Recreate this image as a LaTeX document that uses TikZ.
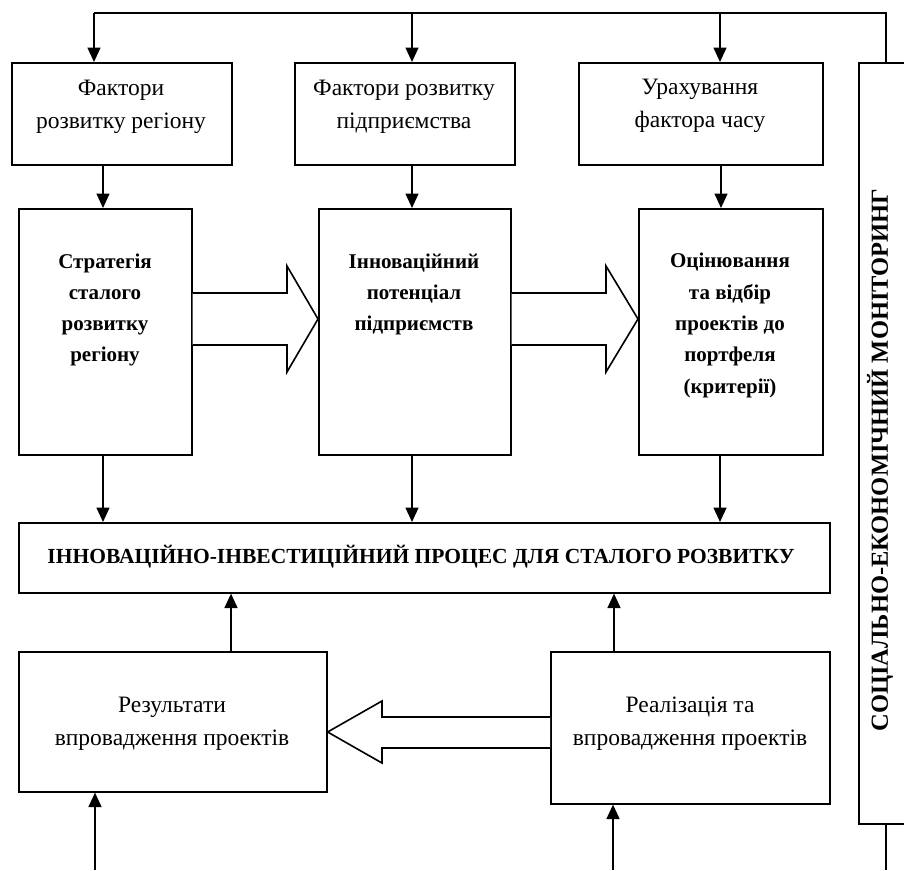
\documentclass[tikz,border=0pt]{standalone}
\usepackage{fontspec}
\setmainfont{Liberation Serif}
\usetikzlibrary{arrows.meta}
\begin{document}
\begin{tikzpicture}[x=1pt,y=-1pt,
  box/.style={draw,line width=1.6pt,inner sep=0pt,anchor=north west},
  txt/.style={align=center,inner sep=0pt,font=\fontsize{23.5}{33}\selectfont},
  btxt/.style={align=center,inner sep=0pt,font=\fontsize{21}{31.3}\selectfont\bfseries},
  arr/.style={line width=1.6pt,-{Triangle[width=13pt,length=14.5pt]}},
  ln/.style={line width=1.6pt},
  barrow/.style={line width=1.6pt,fill=white,line join=miter}]
\useasboundingbox (0,0) rectangle (904,870);
\clip (0,0) rectangle (904,870);
% factor boxes
\node[box,minimum width=220pt,minimum height=102pt] (F1) at (11,62) {};
\node[box,minimum width=220pt,minimum height=102pt] (F2) at (294,62) {};
\node[box,minimum width=244pt,minimum height=102pt] (F3) at (578,62) {};
\node[txt] (F1t) at (121,106.5) {Фактори\\розвитку регіону};
\node[txt] (F2t) at (404,106.5) {Фактори розвитку\\підприємства};
\node[txt] (F3t) at (700,106) {Урахування\\фактора часу};
% strategy boxes
\node[box,minimum width=173pt,minimum height=246pt] (S1) at (18,208) {};
\node[box,minimum width=192pt,minimum height=246pt] (S2) at (318,208) {};
\node[box,minimum width=184pt,minimum height=246pt] (S3) at (638,208) {};
\node[btxt] (S1t) at (105,310) {Стратегія\\сталого\\розвитку\\регіону};
\node[btxt] (S2t) at (414,294.5) {Інноваційний\\потенціал\\підприємств};
\node[btxt] (S3t) at (730,325.5) {Оцінювання\\та відбір\\проектів до\\портфеля\\(критерії)};
% main box
\node[box,minimum width=811pt,minimum height=70pt] (P) at (18,522) {};
\node[btxt,font=\fontsize{21.5}{31.3}\selectfont\bfseries] (Pt) at (421,557) {ІННОВАЦІЙНО-ІНВЕСТИЦІЙНИЙ ПРОЦЕС ДЛЯ СТАЛОГО РОЗВИТКУ};
% bottom boxes
\node[box,minimum width=308pt,minimum height=140pt] (R) at (18,651) {};
\node[box,minimum width=279pt,minimum height=152pt] (Re) at (550,651) {};
\node[txt] (Rt) at (172,723.5) {Результати\\впровадження проектів};
\node[txt] (Ret) at (690,723.5) {Реалізація та\\впровадження проектів};
% monitoring box
\node[box,minimum width=60pt,minimum height=761pt] (M) at (858,62) {};
\node[btxt,font=\fontsize{24.5}{30}\selectfont\bfseries,rotate=90] (Mt) at (880,460) {СОЦІАЛЬНО-ЕКОНОМІЧНИЙ МОНІТОРИНГ};
% top feedback line
\coordinate (t1) at (94,13);
\coordinate (t2) at (412,13);
\coordinate (t3) at (720,13);
\coordinate (t4) at (886,13);
\draw[ln] (t1) -- (t4) -- (M.north -| t4);
\draw[arr] (t1) -- (F1.north -| t1);
\draw[arr] (t2) -- (F2.north -| t2);
\draw[arr] (t3) -- (F3.north -| t3);
% factor -> strategy
\coordinate (a1) at (103,0);
\coordinate (a2) at (412,0);
\coordinate (a3) at (721,0);
\draw[arr] (F1.south -| a1) -- (S1.north -| a1);
\draw[arr] (F2.south -| a2) -- (S2.north -| a2);
\draw[arr] (F3.south -| a3) -- (S3.north -| a3);
% strategy -> main
\coordinate (d3) at (720,0);
\draw[arr] (S1.south -| a1) -- (P.north -| a1);
\draw[arr] (S2.south -| a2) -- (P.north -| a2);
\draw[arr] (S3.south -| d3) -- (P.north -| d3);
% bottom -> main
\coordinate (u1) at (231,0);
\coordinate (u2) at (614,0);
\draw[arr] (R.north -| u1) -- (P.south -| u1);
\draw[arr] (Re.north -| u2) -- (P.south -| u2);
% inputs from below
\coordinate (b1) at (95,870);
\coordinate (b2) at (613,870);
\coordinate (b3) at (886,870);
\draw[arr] (b1) -- (R.south -| b1);
\draw[arr] (b2) -- (Re.south -| b2);
\draw[ln] (M.south -| b3) -- (b3);
% block arrows
\draw[barrow] (S1.east |- 0,293) -- (287,293) -- (287,266) -- (S2.west |- 0,319) -- (287,372) -- (287,345) -- (S1.east |- 0,345);
\draw[barrow] (S2.east |- 0,293) -- (606,293) -- (606,266) -- (S3.west |- 0,319) -- (606,372) -- (606,345) -- (S2.east |- 0,345);
\draw[barrow] (Re.west |- 0,717) -- (382,717) -- (382,701) -- (R.east |- 0,732) -- (382,763) -- (382,748) -- (Re.west |- 0,748);
\end{tikzpicture}
\end{document}
